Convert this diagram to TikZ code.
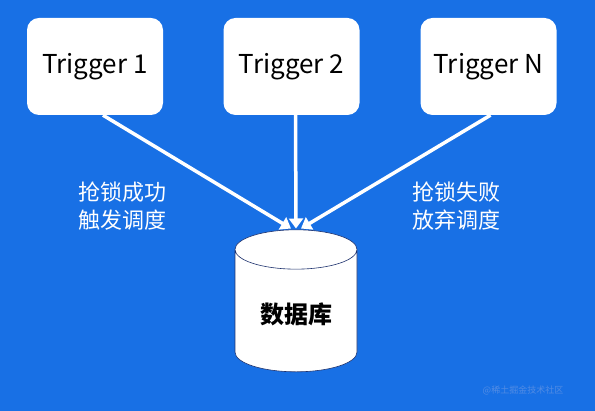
\documentclass[tikz,border=0pt]{standalone}
\usepackage{fontspec}
\setmainfont{Noto Sans CJK SC}
\usetikzlibrary{shapes.geometric,arrows.meta}
\definecolor{bgblue}{RGB}{24,112,229}
\definecolor{rimblue}{RGB}{30,50,110}
\definecolor{markblue}{RGB}{82,140,228}
\begin{document}
\begin{tikzpicture}[x=1pt,y=1pt,
	trig/.style={draw=none,fill=white,rounded corners=12pt,minimum width=136pt,minimum height=97pt,font=\fontsize{26}{30}\selectfont},
	lbl/.style={text=white,align=center,font=\fontsize{22}{28}\selectfont},
	link/.style={draw=white,line width=3.5pt,-{Triangle[width=14pt,length=10pt]}}]
			\fill[bgblue] (0,0) rectangle (595,411);
			\useasboundingbox (0,0) rectangle (595,411);
			\node (1) [trig] at (95,344.5) {Trigger 1};
			\node (2) [trig] at (291.5,344.5) {Trigger 2};
			\node (3) [trig] at (488.5,344.5) {Trigger N};
			\node (db) [cylinder,shape border rotate=90,aspect=0.5,draw=rimblue,line width=0.6pt,fill=white,
				minimum width=122pt,minimum height=142pt,font=\bfseries\fontsize{24}{28}\selectfont] at (296,97) {数据库};
			\coordinate (a1) at ([xshift=8pt]1.south);
			\coordinate (a2) at ([xshift=4pt]2.south);
			\coordinate (a3) at ([xshift=2pt]3.south);
			\coordinate (e1) at ([xshift=-5pt,yshift=1pt]db.north);
			\coordinate (e2) at ([yshift=1pt]db.north);
			\coordinate (e3) at ([xshift=5pt,yshift=1pt]db.north);
			\path
			(a1) edge [link] (e1)
			(a2) edge [link] (e2)
			(a3) edge [link] (e3);
			\node (4) [lbl] at (122,205) {抢锁成功\\触发调度};
			\node (5) [lbl] at (456,205) {抢锁失败\\放弃调度};
			\node (6) [text=markblue,font=\fontsize{9}{11}\selectfont] at (523,21) {@稀土掘金技术社区};
		\end{tikzpicture}
\end{document}
